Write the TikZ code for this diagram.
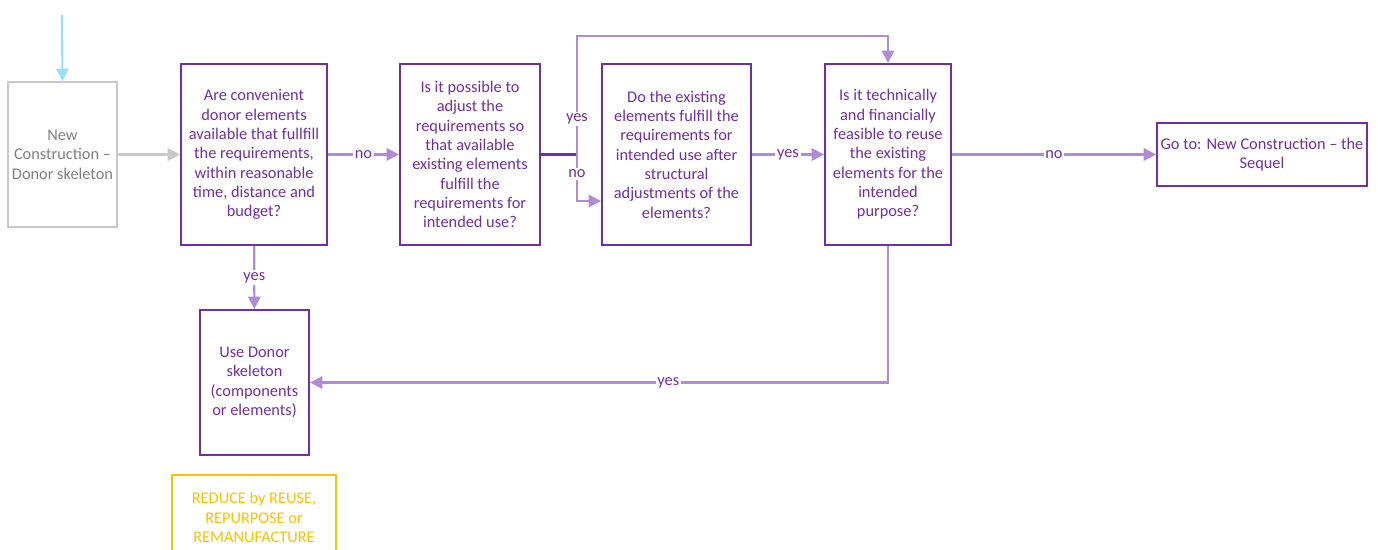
\documentclass[tikz,border=0pt]{standalone}
\usepackage{fontspec}
\setmainfont{Carlito}
\usetikzlibrary{arrows.meta}
\definecolor{darkpurple}{HTML}{7030A0}
\definecolor{lightpurple}{HTML}{B08CD4}
\definecolor{lightgrey}{HTML}{C8C8C8}
\definecolor{textgrey}{HTML}{808080}
\definecolor{skyblue}{HTML}{99DDFF}
\definecolor{reuseyellow}{HTML}{FFC000}

\begin{document}
\begin{tikzpicture}[
	box/.style={draw=darkpurple, line width=1.1pt, text=darkpurple, align=center, inner sep=2pt, font=\fontsize{9.3}{11}\selectfont},
	greybox/.style={box, draw=lightgrey, text=textgrey},
	yellowbox/.style={box, draw=reuseyellow, text=reuseyellow},
	link/.style={draw=lightpurple, line width=1.2pt, -{Triangle[length=7pt,width=7pt]}},
	tag/.style={fill=white, text=darkpurple, inner sep=1pt, font=\fontsize{9.3}{11}\selectfont}
	]
			%%%%% START %%%%%
			
			\useasboundingbox (0, 0) rectangle (27.56, -11);
			
			\node[greybox, minimum width=2.18cm, minimum height=2.9cm] (start) at (1.25, -3.09) {New\\Construction --\\Donor skeleton};
			
			\node[box, minimum width=2.92cm, minimum height=3.62cm] (donor) at (5.08, -3.09) {Are convenient\\donor elements\\available that fullfill\\the requirements,\\within reasonable\\time, distance and\\budget?};
			\node[box, minimum width=2.8cm, minimum height=3.62cm] (adjust) at (9.4, -3.09) {Is it possible to\\adjust the\\requirements so\\that available\\existing elements\\fulfill the\\requirements for\\intended use?};
			\node[box, minimum width=2.98cm, minimum height=3.62cm] (struct) at (13.53, -3.09) {Do the existing\\elements fulfill the\\requirements for\\intended use after\\structural\\adjustments of the\\elements?};
			\node[box, minimum width=2.52cm, minimum height=3.62cm] (feasible) at (17.76, -3.09) {Is it technically\\and financially\\feasible to reuse\\the existing\\elements for the\\intended\\purpose?};
			\node[box, minimum width=4.2cm, minimum height=1.26cm] (sequel) at (25.24, -3.09) {Go to: New Construction -- the\\Sequel};
			
			\node[box, minimum width=2.18cm, minimum height=2.9cm] (use) at (5.09, -7.65) {Use Donor\\skeleton\\(components\\or elements)};
			\node[yellowbox, minimum width=3.28cm, minimum height=1.7cm, anchor=north] (reduce) at (5.08, -9.48) {REDUCE by REUSE,\\REPURPOSE or\\REMANUFACTURE};
			
			\coordinate (entry) at (1.24, -0.3);
			\coordinate (split) at (11.54, -3.09);
			
			\draw[draw=skyblue, line width=1.2pt, -{Triangle[length=7pt,width=7pt]}] (entry) -- (start.north);
			\draw[draw=lightgrey, line width=1.2pt, -{Triangle[length=7pt,width=7pt]}] (start) -- (donor);
			
			\draw[link] (donor) -- node[tag] {no} (adjust);
			\draw[draw=darkpurple, line width=1.2pt] (adjust.east) -- (split);
			\draw[link] (split) -- node[tag, pos=0.3] {yes} (split |- 0, -0.72) -| (feasible.north);
			\draw[link] (split) -- node[tag, pos=0.42] {no} (split |- 0, -4.02) -- (struct.west |- 0, -4.02);
			\draw[link] (struct) -- node[tag] {yes} (feasible);
			\draw[link] (feasible) -- node[tag] {no} (sequel);
			
			\draw[link] (donor) -- node[tag] {yes} (use);
			\draw[link] (feasible.south) |- node[tag, pos=0.69] {yes} (use.east);
			
			%%%%% END %%%%%
\end{tikzpicture}
\end{document}
